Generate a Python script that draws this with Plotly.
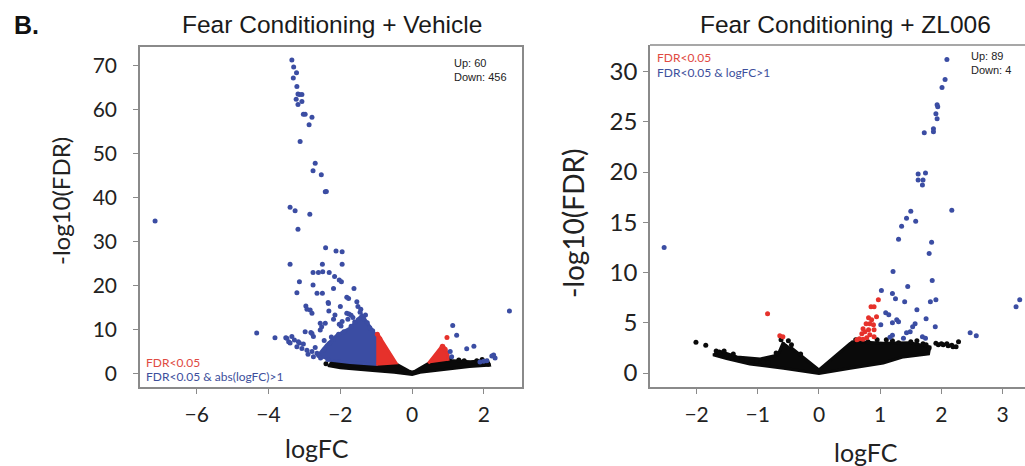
import plotly.graph_objects as go

W, H = 1025, 466

# ---------------- Left panel: Fear Conditioning + Vehicle ----------------
veh_blue_x = [-3.35, -3.30, -3.22, -3.31, -3.21, -3.18, -3.14, -3.07, -3.23, -3.07, -3.18, -3.03, -2.98,
              -2.79, -2.87, -3.12, -2.70, -2.76, -2.53, -2.42, -2.39, -3.40, -3.26, -2.85, -7.16, -3.18,
              -2.41, -2.12, -1.95, -3.40, -2.50, -1.95, -2.76, -2.61, -2.49, -2.31, -2.16, -2.03, -1.97,
              -3.14, -2.76, -2.19, -1.62, -3.21, -2.65, -2.50, -1.82, -1.77, -2.34, -2.96, -2.93, -2.84,
              -2.00, -1.51, -1.43, -2.32, -2.79, -1.76, -1.70, -2.15, -2.19, -1.30, -1.79, -2.56, -2.52,
              -2.56, -2.03, -1.98, -4.33, -2.82, -3.82, -3.52, -3.35, -3.28, -3.44, -3.17, -3.03, -3.21,
              -3.07, -2.93, -2.79, -2.65, -3.49, -3.40, -3.14, -2.98, -2.79, -2.75, -2.42, -2.33, -1.82,
              -1.54, -1.35, -1.25, -1.18, -1.10, -2.60, -2.45, -2.30, -2.20, -2.05, -1.90, -1.70, -1.60,
              -1.50, -2.90, -2.75, -2.55, -2.35, -2.45, -2.25, -1.95, -1.65, -1.45, -2.70,
              1.13, 1.24, 1.72, 1.52, 2.27, 2.31, 2.08, 1.89, 1.06, 1.10, 2.71, 2.22, 1.99]
veh_blue_y = [71.2, 69.6, 68.3, 67.1, 65.2, 63.5, 63.4, 63.4, 62.3, 61.8, 61.1, 58.9, 58.9,
              58.2, 56.5, 52.7, 47.8, 46.1, 45.2, 41.3, 41.4, 37.8, 37.0, 36.2, 34.7, 32.8,
              28.6, 27.9, 27.7, 24.9, 24.9, 24.9, 23.0, 23.0, 23.2, 23.0, 22.1, 21.3, 20.9,
              20.9, 20.2, 19.4, 19.4, 18.4, 18.3, 18.3, 17.4, 17.1, 16.2, 15.4, 14.7, 14.5,
              15.3, 15.3, 14.7, 14.3, 13.8, 13.6, 13.3, 13.4, 12.4, 13.4, 12.4, 11.5, 10.7,
              10.0, 11.3, 10.9, 9.3, 9.4, 8.2, 8.2, 8.5, 7.7, 7.3, 7.3, 6.8, 6.2,
              5.8, 5.4, 5.1, 4.7, 8.1, 7.0, 7.0, 9.6, 9.2, 8.5, 11.5, 16.0, 13.8,
              16.4, 12.5, 11.6, 10.5, 9.8, 4.2, 5.5, 6.9, 7.8, 9.0, 9.6, 10.8, 11.8,
              12.3, 4.5, 3.9, 3.6, 3.3, 7.6, 8.4, 11.9, 12.8, 14.0, 6.0,
              11.0, 8.8, 6.3, 5.7, 4.3, 3.6, 3.0, 2.7, 5.1, 3.9, 14.3, 4.1, 2.9]
veh_red_x = [0.97, -0.97, -0.90, 0.84, 0.92]
veh_red_y = [8.3, 9.0, 8.0, 6.3, 5.6]
veh_black_x = [-2.40, -2.20, -1.90, -1.60, -1.30, 0.60, 0.75, 1.05, 1.30, 1.45, 1.80, 1.95, 2.05, 2.12]
veh_black_y = [2.3, 2.8, 2.9, 2.8, 2.6, 2.9, 3.2, 3.4, 3.2, 3.0, 3.0, 3.3, 2.6, 2.2]
# dense regions (outlines of solid dot clouds)
veh_blue_cloud_x = [-2.65, -2.38, -2.10, -1.73, -1.40, -1.00, -1.00, -1.73, -2.38]
veh_blue_cloud_y = [3.9, 6.6, 8.8, 10.4, 13.4, 8.7, 2.2, 2.6, 3.2]
veh_red_cloud_l_x = [-1.00, -0.95, -0.45, -1.00]
veh_red_cloud_l_y = [8.7, 9.0, 2.5, 2.2]
veh_red_cloud_r_x = [0.45, 0.80, 0.88, 1.00, 1.00]
veh_red_cloud_r_y = [2.4, 6.0, 6.3, 4.5, 3.0]
veh_black_cloud_x = [-2.30, -1.50, -1.00, -0.47, -0.10, 0.00, 0.10, 0.45, 1.15, 1.62, 2.10, 2.15,
                     1.60, 1.15, 0.22, 0.00, -0.50, -1.10, -2.00, -2.35]
veh_black_cloud_y = [2.5, 2.6, 2.3, 2.4, 0.7, 0.4, 0.7, 2.4, 3.0, 2.8, 3.1, 2.0,
                     1.7, 1.3, 0.4, -0.1, 0.4, 0.8, 1.4, 1.9]

# ---------------- Right panel: Fear Conditioning + ZL006 ----------------
zl_blue_x = [2.09, 2.06, 2.01, 1.93, 1.94, 1.91, 1.93, 1.87, 1.87, 1.72, 1.62, 1.74, 1.62, 1.70, 1.69,
             1.50, 1.43, 1.58, 2.17, 1.35, 1.30, 1.84, 1.80, -2.53, 1.21, 1.85, 1.02, 1.45, 1.20, 1.25,
             1.40, 1.82, 1.91, 3.28, 3.22, 1.60, 1.09, 1.14, 1.75, 1.27, 1.30, 1.20, 1.01, 1.57, 1.53,
             1.43, 1.49, 1.90, 2.47, 2.57, 1.16, 1.20, 1.38, 1.69, 1.74]
zl_blue_y = [31.2, 29.2, 28.4, 26.7, 26.5, 25.8, 25.3, 24.3, 24.0, 23.9, 19.8, 19.9, 19.2, 19.2, 18.7,
             16.1, 15.4, 15.1, 16.2, 14.6, 13.3, 13.0, 11.9, 12.5, 10.1, 9.2, 8.2, 8.6, 7.9, 7.4,
             7.1, 7.1, 7.3, 7.3, 6.6, 6.3, 6.0, 5.8, 5.4, 5.3, 5.1, 5.0, 4.8, 4.9, 4.6,
             4.0, 4.1, 4.6, 4.0, 3.7, 3.55, 3.75, 3.45, 3.6, 3.45]
zl_red_x = [0.97, 0.85, 0.90, -0.84, 0.81, 0.86, 0.94, 0.77, 0.83, 0.89, 0.72, 0.81, 0.75, 0.70,
            0.90, 0.83, 0.90, 0.78, 0.66, 0.62, 0.72, -0.64, -0.59]
zl_red_y = [7.3, 6.6, 6.6, 5.9, 5.5, 5.3, 5.6, 4.9, 4.9, 4.8, 4.4, 4.3, 4.1, 3.9,
            4.3, 3.8, 3.6, 3.5, 3.4, 3.3, 3.35, 3.7, 3.6]
zl_black_x = [-2.01, -1.85, -1.68, -1.63, -1.51, -1.43, -1.34, -1.26, -1.18, -1.02, -0.91, -0.83,
              1.95, 2.03, 2.11, 2.19, 2.28, 1.91, 2.00, 2.09, 2.17, 2.24, -0.55, -0.50, 0.55, 0.70,
              0.95, 1.20, 1.50, 1.70, 0.60, 0.80, 1.10, 1.30, 1.60, 1.75, 1.80, -0.45, -0.62,
              -0.30, -0.70, -1.40, -1.55]
zl_black_y = [3.05, 2.75, 2.2, 2.1, 1.7, 1.55, 1.45, 1.35, 1.3, 1.2, 1.1, 1.05,
              2.8, 2.8, 2.7, 2.6, 3.1, 2.95, 2.9, 2.9, 2.75, 2.6, 2.6, 3.2, 3.0, 3.2,
              3.3, 3.2, 3.1, 2.9, 3.3, 3.1, 3.3, 3.0, 3.2, 2.8, 2.5, 2.8, 3.3,
              1.9, 2.0, 1.9, 2.2]
zl_black_cloud_x = [-0.58, -0.67, -0.96, -1.34, -1.59, -1.73, -1.51, -1.13, -0.58, 0.00, 0.51, 1.05,
                    1.38, 1.79, 1.81, 1.49, 1.05, 0.62, 0.51, 0.00, -0.47]
zl_black_cloud_y = [3.1, 1.8, 1.4, 1.6, 2.1, 1.8, 1.45, 0.9, 0.47, -0.05, 0.47, 1.0,
                    1.6, 1.9, 2.6, 3.0, 2.95, 3.1, 2.95, 0.3, 2.6]

y_ticks_left = [0, 10, 20, 30, 40, 50, 60, 70]
x_ticks_left = [-6, -4, -2, 0, 2]
y_ticks_right = [0, 5, 10, 15, 20, 25, 30]
x_ticks_right = [-2, -1, 0, 1, 2, 3]

BLUE = "#3b4da3"
RED = "#e6312b"
BLACK = "#0a0a0a"

fig = go.Figure()


def cloud(x, y, color, xa, ya):
    fig.add_trace(go.Scatter(x=x, y=y, mode="lines", fill="toself", fillcolor=color,
                             line=dict(color=color, width=3), hoverinfo="skip",
                             xaxis=xa, yaxis=ya, showlegend=False))


def dots(x, y, color, xa, ya, size=5):
    fig.add_trace(go.Scatter(x=x, y=y, mode="markers", marker=dict(color=color, size=size, line=dict(width=0)),
                             xaxis=xa, yaxis=ya, showlegend=False))


cloud(veh_black_cloud_x, veh_black_cloud_y, BLACK, "x", "y")
dots(veh_black_x, veh_black_y, BLACK, "x", "y")
cloud(veh_blue_cloud_x, veh_blue_cloud_y, BLUE, "x", "y")
cloud(veh_red_cloud_l_x, veh_red_cloud_l_y, RED, "x", "y")
cloud(veh_red_cloud_r_x, veh_red_cloud_r_y, RED, "x", "y")
dots(veh_blue_x, veh_blue_y, BLUE, "x", "y")
dots(veh_red_x, veh_red_y, RED, "x", "y")

cloud(zl_black_cloud_x, zl_black_cloud_y, BLACK, "x2", "y2")
dots(zl_black_x, zl_black_y, BLACK, "x2", "y2")
dots(zl_red_x, zl_red_y, RED, "x2", "y2")
dots(zl_blue_x, zl_blue_y, BLUE, "x2", "y2")

AX = "#8a8a8a"
FONT = "Lato, Open Sans, sans-serif"
common = dict(showgrid=False, zeroline=False, showline=True, linecolor=AX, linewidth=1.5,
              ticks="outside", tickcolor=AX, ticklen=5, tickwidth=1.2)


def px_x(p):
    return p / W


def px_y(p):
    return 1 - p / H


fig.update_layout(
    width=W, height=H, margin=dict(l=0, r=0, t=0, b=0),
    paper_bgcolor="white", plot_bgcolor="white",
    xaxis=dict(domain=[px_x(140), px_x(522)], range=[-7.58, 3.06], tickvals=x_ticks_left,
               anchor="y", mirror=True, ticklabelstandoff=3,
               tickfont=dict(family=FONT, size=21, color="#222"), **common),
    yaxis=dict(domain=[px_y(387), px_y(47)], range=[-2.95, 74.15], tickvals=y_ticks_left,
               anchor="x", mirror=True, ticklabelstandoff=12,
               tickfont=dict(family=FONT, size=21, color="#222"), **common),
    xaxis2=dict(domain=[px_x(650), 1.0], range=[-2.761, 3.366], tickvals=x_ticks_right,
                anchor="y2", ticklabelstandoff=3,
                tickfont=dict(family=FONT, size=21, color="#222"), **common),
    yaxis2=dict(domain=[px_y(387), px_y(45)], range=[-1.393, 32.64], tickvals=y_ticks_right,
                anchor="x2", ticklabelstandoff=1,
                tickfont=dict(family=FONT, size=24, color="#222"), **common),
)

# top border of right panel
fig.add_shape(type="line", xref="x2 domain", yref="y2 domain", x0=0, x1=1, y0=1, y1=1,
              line=dict(color=AX, width=1.5))

ann = []
title_font = dict(family="Liberation Sans, Arial, sans-serif", size=24.5, color="#1a1a1a")
ann.append(dict(text="<b>B.</b>", x=px_x(12), y=px_y(25), xanchor="left", yanchor="middle",
                font=dict(family="Liberation Sans, Arial, sans-serif", size=25, color="#111")))
ann.append(dict(text="Fear Conditioning + Vehicle", x=px_x(332), y=px_y(25), xanchor="center",
                yanchor="middle", font=title_font))
ann.append(dict(text="Fear Conditioning + ZL006", x=px_x(845), y=px_y(25), xanchor="center",
                yanchor="middle", font=title_font))
axt = dict(family=FONT, color="#222")
ann.append(dict(text="-log10(FDR)", x=px_x(61), y=px_y(201), textangle=-90, xanchor="center",
                yanchor="middle", font=dict(size=24, **axt)))
ann.append(dict(text="-log10(FDR)", x=px_x(573), y=px_y(224), textangle=-90, xanchor="center",
                yanchor="middle", font=dict(size=28, **axt)))
ann.append(dict(text="logFC", x=px_x(317), y=px_y(448), xanchor="center", yanchor="middle",
                font=dict(size=25, **axt)))
ann.append(dict(text="logFC", x=px_x(866), y=px_y(452), xanchor="center", yanchor="middle",
                font=dict(size=25, **axt)))
small = dict(family="Liberation Sans, Arial, sans-serif", size=11, color="#222")
ann.append(dict(text="Up: 60<br>Down: 456", x=px_x(452), y=px_y(55), xanchor="left", yanchor="top",
                align="left", font=small))
ann.append(dict(text="Up: 89<br>Down: 4", x=px_x(969), y=px_y(48), xanchor="left", yanchor="top",
                align="left", font=small))
leg = dict(family=FONT, size=12)
ann.append(dict(text="FDR<0.05", x=px_x(144), y=px_y(362), xanchor="left", yanchor="middle",
                font=dict(color="#e04a42", **leg)))
ann.append(dict(text="FDR<0.05 & abs(logFC)>1", x=px_x(144), y=px_y(376), xanchor="left",
                yanchor="middle", font=dict(color="#3d4f9c", **leg)))
ann.append(dict(text="FDR<0.05", x=px_x(655), y=px_y(57), xanchor="left", yanchor="middle",
                font=dict(color="#e04a42", **leg)))
ann.append(dict(text="FDR<0.05 & logFC>1", x=px_x(655), y=px_y(73), xanchor="left",
                yanchor="middle", font=dict(color="#3d4f9c", **leg)))
for a in ann:
    a.update(xref="paper", yref="paper", showarrow=False)
fig.update_layout(annotations=ann)

fig.write_html("out.html", config={"displayModeBar": False},
               post_script="document.body.style.margin='0px';document.body.style.padding='0px';"
                           "document.documentElement.style.overflow='hidden';")
